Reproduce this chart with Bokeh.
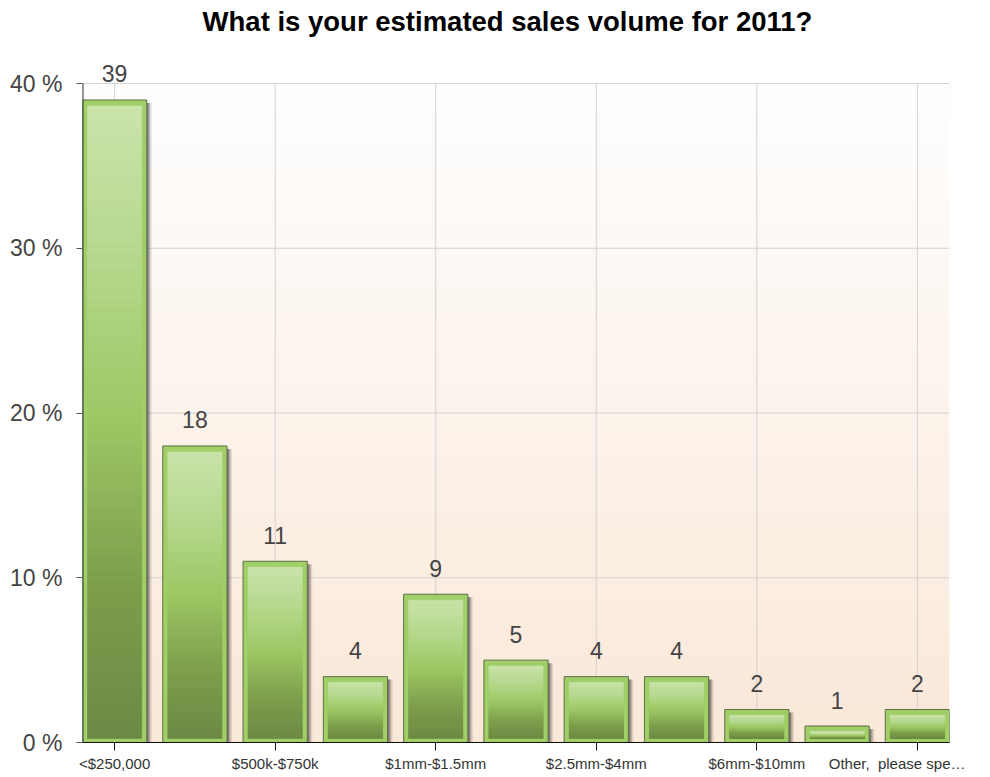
import numpy as np
from bokeh.plotting import figure
from bokeh.models import Range1d, FixedTicker
from bokeh.core.properties import value
from bokeh.embed import file_html
from bokeh.resources import INLINE

# ---- data -------------------------------------------------------------
chart_title = "What is your estimated sales volume for 2011?"
positions = list(range(11))
percent = [39, 18, 11, 4, 9, 5, 4, 4, 2, 1, 2]
label_positions = [0, 2, 4, 6, 8, 10]
label_texts = ["<$250,000", "$500k-$750k", "$1mm-$1.5mm",
               "$2.5mm-$4mm", "$6mm-$10mm",
               "Other,\u00a0\u00a0please spe…" + "\u00a0" * 6]
y_ticks = [0, 10, 20, 30, 40]
y_tick_texts = ["0 %", "10 %", "20 %", "30 %", "40 %"]

FONT = "Liberation Sans"
HALF = 0.4           # half bar width in category units
X0, X1 = -0.4, 10.4
Y_TOP = 40

# pixel layout of the plotting frame
W, H = 990, 777
LEFT_PX, RIGHT_PX = 82, 949
BOTTOM_PX, TOP40_PX = 742, 83
px_x = (RIGHT_PX - LEFT_PX) / (X1 - X0)
px_y = (BOTTOM_PX - TOP40_PX) / Y_TOP
Y_END = BOTTOM_PX / px_y        # frame reaches the top edge of the canvas

p = figure(width=W, height=H,
           x_range=Range1d(X0, X1), y_range=Range1d(0, Y_END),
           output_backend="svg", toolbar_location=None,
           min_border_left=LEFT_PX, min_border_right=W - RIGHT_PX,
           min_border_top=0, min_border_bottom=H - BOTTOM_PX)

p.background_fill_color = "white"
p.border_fill_color = "white"
p.outline_line_color = None
p.xgrid.visible = False
p.ygrid.visible = False

# ---- plot-area background: white fading to pale peach -----------------
n = 256
top_c = np.array([255, 255, 255])
bot_c = np.array([250, 232, 216])
t = np.linspace(0, 1, n)[:, None]          # 0 = bottom row
rgb = (bot_c * (1 - t) + top_c * t).astype(np.uint32)
img = np.empty((n, 1), dtype=np.uint32)
view = img.view(dtype=np.uint8).reshape((n, 1, 4))
view[:, 0, 0] = rgb[:, 0]
view[:, 0, 1] = rgb[:, 1]
view[:, 0, 2] = rgb[:, 2]
view[:, 0, 3] = 255
p.image_rgba(image=[img], x=X0, y=0, dw=X1 - X0, dh=Y_TOP)

# ---- grid lines (bounded to the 0-40 % area) ---------------------------
grid_col = "#D2D2D2"
hy = [v for v in y_ticks if v > 0]
p.segment(x0=[X0] * len(hy), y0=hy, x1=[X1] * len(hy), y1=hy,
          line_color=grid_col, line_width=1)
p.segment(x0=label_positions, y0=[0] * len(label_positions),
          x1=label_positions, y1=[Y_TOP] * len(label_positions),
          line_color=grid_col, line_width=1)

# ---- bars --------------------------------------------------------------
ix = 5 / px_x
iy_top = 6 / px_y
iy_bot = 4 / px_y

# soft shadow on the right side
for off, alpha in [(5, 0.10), (3.5, 0.18), (2, 0.30)]:
    p.quad(left=[x + HALF for x in positions],
           right=[x + HALF + off / px_x for x in positions],
           bottom=[0] * len(positions),
           top=[v - 3 / px_y for v in percent],
           fill_color="#000000", fill_alpha=alpha, line_color=None)

# outer bar body with light-green rim
p.quad(left=[x - HALF for x in positions], right=[x + HALF for x in positions],
       bottom=[0] * len(positions), top=percent,
       fill_color="#A0CE67", line_color="#5E6E48", line_width=1)

# inner vertical gradient
stops = [(0.0, (0x6C, 0x89, 0x44)), (0.25, (0x7E, 0x9F, 0x4D)),
         (0.5, (0x9C, 0xC7, 0x63)), (0.75, (0xB4, 0xD8, 0x8C)),
         (1.0, (0xCA, 0xE3, 0xAB))]


def grad(f):
    for (a, ca), (b, cb) in zip(stops[:-1], stops[1:]):
        if f <= b:
            u = (f - a) / (b - a)
            c = [round(ca[k] + (cb[k] - ca[k]) * u) for k in range(3)]
            return "#%02x%02x%02x" % tuple(c)
    return "#%02x%02x%02x" % stops[-1][1]


L, R, B, T, C = [], [], [], [], []
slices = 90
for x, v in zip(positions, percent):
    b0 = iy_bot
    t0 = v - iy_top
    if t0 <= b0:
        continue
    h = (t0 - b0) / slices
    for k in range(slices):
        L.append(x - HALF + ix)
        R.append(x + HALF - ix)
        B.append(b0 + k * h)
        T.append(b0 + (k + 1) * h)
        C.append(grad((k + 0.5) / slices))
p.quad(left=L, right=R, bottom=B, top=T, fill_color=C, line_color=C,
       line_width=0.6)

# value labels above bars
p.text(x=positions, y=percent, text=[str(v) for v in percent],
       text_align="center", text_baseline="middle", y_offset=-26,
       text_font_size="23px", text_color="#444444",
       text_font=value(FONT))

# left axis line from 0 to 40 %
p.segment(x0=[X0], y0=[0], x1=[X0], y1=[Y_TOP], line_color="#333333",
          line_width=2)

# ---- chart title, centred over the chart at the top of the canvas -----
title_x = X0 + (507 - LEFT_PX) / px_x
title_y = (BOTTOM_PX - 21) / px_y
p.text(x=[title_x], y=[title_y], text=[chart_title],
       text_align="center", text_baseline="middle",
       text_font=value(FONT), text_font_size="27.5px",
       text_font_style="bold", text_color="#000000")

# ---- axes --------------------------------------------------------------
ya = p.yaxis[0]
ya.ticker = FixedTicker(ticks=y_ticks)
ya.major_label_overrides = dict(zip(y_ticks, y_tick_texts))
ya.axis_line_color = None
ya.major_tick_line_color = "#555555"
ya.major_tick_out = 6
ya.major_tick_in = 0
ya.minor_tick_line_color = None
ya.major_label_text_font = FONT
ya.major_label_text_font_size = "23px"
ya.major_label_text_color = "#444444"
ya.major_label_standoff = 14

xa = p.xaxis[0]
xa.ticker = FixedTicker(ticks=label_positions)
xa.major_label_overrides = dict(zip(label_positions, label_texts))
xa.axis_line_color = "#111111"
xa.axis_line_width = 1
xa.major_tick_line_color = "#111111"
xa.major_tick_out = 8
xa.major_tick_in = 0
xa.minor_tick_line_color = None
xa.major_label_text_font = FONT
xa.major_label_text_font_size = "15px"
xa.major_label_text_color = "#333333"
xa.major_label_standoff = 4

open("out.html", "w").write(file_html(p, INLINE))
